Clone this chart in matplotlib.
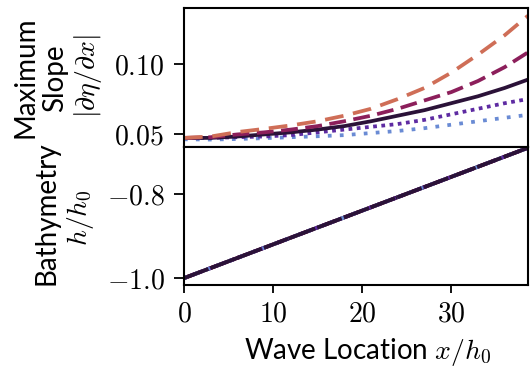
import matplotlib
matplotlib.use("Agg")
import matplotlib.pyplot as plt
from matplotlib.ticker import FixedLocator, FixedFormatter

plt.rcParams['mathtext.fontset'] = 'cm'
plt.rcParams['font.family'] = ['Lato', 'DejaVu Sans']

# Data
x = [0, 3, 6, 9, 12, 15, 18, 21, 24, 27, 30, 33, 36, 38.6]
slope_salmon = [0.047, 0.048, 0.0512, 0.0535, 0.0560, 0.0590, 0.063, 0.068, 0.075, 0.083, 0.094, 0.107, 0.121, 0.135]
slope_crimson = [0.047, 0.0475, 0.0495, 0.051, 0.053, 0.0555, 0.059, 0.063, 0.068, 0.074, 0.080, 0.088, 0.098, 0.1086]
slope_dark = [0.047, 0.047, 0.048, 0.0495, 0.051, 0.053, 0.0555, 0.059, 0.063, 0.067, 0.072, 0.077, 0.083, 0.089]
slope_purple = [0.047, 0.047, 0.0475, 0.048, 0.049, 0.051, 0.053, 0.055, 0.057, 0.060, 0.064, 0.068, 0.072, 0.075]
slope_blue = [0.046, 0.0458, 0.0462, 0.0468, 0.0475, 0.0482, 0.049, 0.0505, 0.052, 0.054, 0.0565, 0.059, 0.0615, 0.0636]

bath_x = [0, 38.6]
bath_h = [-1.0, -0.6912]

xticks = [0, 10, 20, 30]
top_yticks = [0.05, 0.10]
top_yticklabels = ['$0.05$', '$0.10$']
bot_yticks = [-1.0, -0.8]
bot_yticklabels = ['$-1.0$', '$-0.8$']

top_label_lines = ['Maximum', 'Slope', r'$|\partial\eta/\partial x|$']
bot_label_lines = ['Bathymetry', '$h/h_0$']
xlabel_text = 'Wave Location $x/h_0$'

c_salmon = '#cf6e57'
c_crimson = '#8c1f5b'
c_dark = '#2b1238'
c_purple = '#5e2ba2'
c_blue = '#6a8bd4'

W, H = 530, 371
fig = plt.figure(figsize=(W / 100, H / 100), dpi=100)
ax1 = fig.add_axes([0.347, 0.604, 0.649, 0.374])
ax2 = fig.add_axes([0.347, 0.232, 0.649, 0.372], sharex=ax1)

lw = 2.7
styles = [
    (slope_blue, c_blue, (0, (1, 2.2))),
    (slope_purple, c_purple, (0, (1, 1.2))),
    (slope_dark, c_dark, '-'),
    (slope_crimson, c_crimson, (0, (4.5, 2))),
    (slope_salmon, c_salmon, (0, (5, 2.6))),
]
for ys, c, ls in styles:
    ax1.plot(x, ys, color=c, lw=lw, linestyle=ls, dash_capstyle='butt')

for ys, c, ls in styles[::-1]:
    ax2.plot(bath_x, bath_h, color=c, lw=lw, linestyle=ls)
ax2.plot(bath_x, bath_h, color=c_dark, lw=lw, linestyle=(0, (7, 0.6)))

ax1.set_xlim(0, 38.6)
ax1.set_ylim(0.0405, 0.1405)
ax2.set_ylim(-1.016, -0.689)

ax1.yaxis.set_major_locator(FixedLocator(top_yticks))
ax1.yaxis.set_major_formatter(FixedFormatter(top_yticklabels))
ax2.yaxis.set_major_locator(FixedLocator(bot_yticks))
ax2.yaxis.set_major_formatter(FixedFormatter(bot_yticklabels))
ax2.xaxis.set_major_locator(FixedLocator(xticks))
ax2.xaxis.set_major_formatter(FixedFormatter(['$%d$' % t for t in xticks]))

for ax in (ax1, ax2):
    for s in ax.spines.values():
        s.set_linewidth(1.5)
    ax.tick_params(direction='out', length=7, width=1.3, labelsize=20, pad=7)
ax1.tick_params(axis='x', bottom=False, labelbottom=False)
ax2.tick_params(axis='x', length=6, pad=5)

# y labels, line by line (pixel centres)
for txt, (px, py) in zip(top_label_lines, [(25, 77), (55, 78), (88, 76)]):
    fig.text(px / W, 1 - py / H, txt, rotation=90, ha='center', va='center', fontsize=20)
for txt, (px, py) in zip(bot_label_lines, [(47, 213), (80, 218)]):
    fig.text(px / W, 1 - py / H, txt, rotation=90, ha='center', va='center', fontsize=20)

fig.text(368 / W, 1 - 359 / H, xlabel_text, ha='center', va='baseline', fontsize=20)

fig.savefig('out.png', dpi=100)
